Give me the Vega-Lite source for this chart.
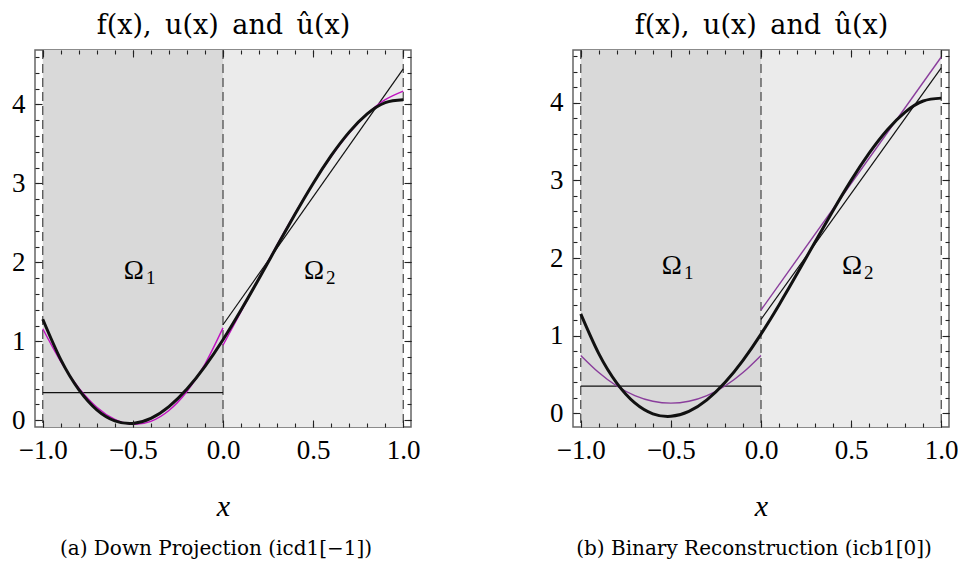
{
  "$schema": "https://vega.github.io/schema/vega-lite/v6.json",
  "autosize": {"type": "none"},
  "padding": {"left": 35, "top": 50, "right": 923, "bottom": 134},
  "background": "white",
  "bounds": "flush",
  "spacing": 162,
  "config": {
    "font": "Liberation Serif",
    "view": {"stroke": "#666", "strokeWidth": 1.5},
    "axis": {"grid": false, "domain": false, "labelFont": "Liberation Serif", "titleFont": "DejaVu Serif", "labelColor": "#000", "titleColor": "#000", "tickColor": "#222", "tickWidth": 1.1, "labelFontSize": 27, "titleFontWeight": "normal"},
    "title": {"font": "DejaVu Serif", "fontWeight": "normal", "color": "#000"}
  },
  "datasets": {
    "regions": [{"region": "Ω1", "x0": -1, "x1": 0}, {"region": "Ω2", "x0": 0, "x1": 1}],
    "bounds": [{"x": -1}, {"x": 0}, {"x": 1}],
    "labels": [{"omega": "Ω", "sub": "1", "x": -0.5, "y": 1.79}, {"omega": "Ω", "sub": "2", "x": 0.5, "y": 1.79}],
    "f": [
      {"x": -1, "y": 1.28}, {"x": -0.9, "y": 0.768}, {"x": -0.8, "y": 0.389}, {"x": -0.7, "y": 0.133}, {"x": -0.6, "y": -0.007},
      {"x": -0.5, "y": -0.04}, {"x": -0.4, "y": 0.023}, {"x": -0.3, "y": 0.172}, {"x": -0.2, "y": 0.395}, {"x": -0.1, "y": 0.682},
      {"x": 0, "y": 1.02}, {"x": 0.1, "y": 1.396}, {"x": 0.2, "y": 1.796}, {"x": 0.3, "y": 2.207}, {"x": 0.4, "y": 2.613},
      {"x": 0.5, "y": 3.0}, {"x": 0.6, "y": 3.351}, {"x": 0.7, "y": 3.65}, {"x": 0.8, "y": 3.88}, {"x": 0.9, "y": 4.023}, {"x": 1, "y": 4.06}
    ],
    "u": [
      {"piece": 1, "x": -1, "y": 0.35}, {"piece": 1, "x": 0, "y": 0.35},
      {"piece": 2, "x": 0, "y": 1.21}, {"piece": 2, "x": 1, "y": 4.45}
    ],
    "ua": [
      {"piece": 1, "x": -1, "y": 1.16}, {"piece": 1, "x": -0.9, "y": 0.743}, {"piece": 1, "x": -0.8, "y": 0.41}, {"piece": 1, "x": -0.7, "y": 0.165},
      {"piece": 1, "x": -0.6, "y": 0.011}, {"piece": 1, "x": -0.5, "y": -0.05}, {"piece": 1, "x": -0.4, "y": -0.013}, {"piece": 1, "x": -0.3, "y": 0.124},
      {"piece": 1, "x": -0.2, "y": 0.365}, {"piece": 1, "x": -0.1, "y": 0.712}, {"piece": 1, "x": 0, "y": 1.17},
      {"piece": 2, "x": 0, "y": 0.95}, {"piece": 2, "x": 0.1, "y": 1.376}, {"piece": 2, "x": 0.2, "y": 1.803}, {"piece": 2, "x": 0.3, "y": 2.222},
      {"piece": 2, "x": 0.4, "y": 2.624}, {"piece": 2, "x": 0.5, "y": 3.0}, {"piece": 2, "x": 0.6, "y": 3.341}, {"piece": 2, "x": 0.7, "y": 3.637},
      {"piece": 2, "x": 0.8, "y": 3.88}, {"piece": 2, "x": 0.9, "y": 4.061}, {"piece": 2, "x": 1, "y": 4.17}
    ],
    "ub": [
      {"piece": 1, "x": -1, "y": 0.745}, {"piece": 1, "x": -0.9, "y": 0.524}, {"piece": 1, "x": -0.8, "y": 0.351}, {"piece": 1, "x": -0.7, "y": 0.228},
      {"piece": 1, "x": -0.6, "y": 0.155}, {"piece": 1, "x": -0.5, "y": 0.13}, {"piece": 1, "x": -0.4, "y": 0.155}, {"piece": 1, "x": -0.3, "y": 0.228},
      {"piece": 1, "x": -0.2, "y": 0.351}, {"piece": 1, "x": -0.1, "y": 0.524}, {"piece": 1, "x": 0, "y": 0.745},
      {"piece": 2, "x": 0, "y": 1.33}, {"piece": 2, "x": 1, "y": 4.59}
    ]
  },
  "hconcat": [
    {
      "width": 376, "height": 377,
      "title": {"text": "(a) Down Projection (icd1[−1])", "orient": "bottom", "fontSize": 20, "offset": 18, "dx": -7},
      "resolve": {"axis": {"x": "independent", "y": "independent"}},
      "layer": [
        {
          "data": {"name": "regions"},
          "mark": {"type": "rect"},
          "encoding": {
            "x": {"field": "x0", "type": "quantitative", "scale": {"domain": [-1.043, 1.043], "nice": false, "zero": false},
                  "axis": {"orient": "bottom", "zindex": 2, "offset": -7, "values": [-1, -0.5, 0, 0.5, 1], "format": ".1f", "tickSize": 7, "labelPadding": 10, "title": "x", "titleFont": "Liberation Serif", "titleFontStyle": "italic", "titleFontSize": 30, "titlePadding": 28}},
            "x2": {"field": "x1"},
            "color": {"field": "region", "type": "nominal", "scale": {"domain": ["Ω1", "Ω2"], "range": ["#d9d9d9", "#ebebeb"]}, "legend": null}
          }
        },
        {
          "data": {"name": "bounds"},
          "mark": {"type": "rule", "color": "#444", "strokeWidth": 1.2, "strokeDash": [9, 5]},
          "encoding": {
            "x": {"field": "x", "type": "quantitative", "scale": {"domain": [-1.043, 1.043], "nice": false, "zero": false},
                  "axis": {"orient": "bottom", "zindex": 2, "offset": -4, "values": [-1, -0.9, -0.8, -0.7, -0.6, -0.5, -0.4, -0.3, -0.2, -0.1, 0, 0.1, 0.2, 0.3, 0.4, 0.5, 0.6, 0.7, 0.8, 0.9, 1], "labels": false, "tickSize": 4, "title": null}}
          }
        },
        {
          "data": {"name": "labels"},
          "mark": {"type": "text", "fontSize": 27, "font": "Liberation Serif", "color": "#000", "align": "right", "baseline": "alphabetic", "dx": 11},
          "encoding": {
            "x": {"field": "x", "type": "quantitative", "scale": {"domain": [-1.043, 1.043], "nice": false, "zero": false},
                  "axis": {"orient": "top", "zindex": 2, "offset": -7, "values": [-1, -0.5, 0, 0.5, 1], "labels": false, "tickSize": 7, "title": "f(x),\u2002u(x)\u2002and\u2002û(x)", "titleFontSize": 27, "titlePadding": 10}},
            "y": {"field": "y", "type": "quantitative", "scale": {"domain": [-0.085, 4.69], "nice": false, "zero": false},
                  "axis": {"orient": "left", "zindex": 2, "offset": -7, "values": [0, 1, 2, 3, 4], "format": "d", "tickSize": 7, "labelPadding": 10, "title": null}},
            "text": {"field": "omega"}
          }
        },
        {
          "data": {"name": "labels"},
          "mark": {"type": "text", "fontSize": 19, "font": "Liberation Serif", "color": "#000", "align": "left", "baseline": "alphabetic", "dx": 13, "dy": 5},
          "encoding": {
            "x": {"field": "x", "type": "quantitative", "scale": {"domain": [-1.043, 1.043], "nice": false, "zero": false}, "axis": null},
            "y": {"field": "y", "type": "quantitative", "scale": {"domain": [-0.085, 4.69], "nice": false, "zero": false}, "axis": null},
            "text": {"field": "sub"}
          }
        },
        {
          "data": {"name": "u"},
          "mark": {"type": "line", "color": "#111", "strokeWidth": 1.2},
          "encoding": {
            "x": {"field": "x", "type": "quantitative", "scale": {"domain": [-1.043, 1.043], "nice": false, "zero": false},
                  "axis": {"orient": "top", "zindex": 2, "offset": -4, "values": [-1, -0.9, -0.8, -0.7, -0.6, -0.5, -0.4, -0.3, -0.2, -0.1, 0, 0.1, 0.2, 0.3, 0.4, 0.5, 0.6, 0.7, 0.8, 0.9, 1], "labels": false, "tickSize": 4, "title": null}},
            "y": {"field": "y", "type": "quantitative", "scale": {"domain": [-0.085, 4.69], "nice": false, "zero": false},
                  "axis": {"orient": "left", "zindex": 2, "offset": -4, "values": [0, 0.2, 0.4, 0.6, 0.8, 1, 1.2, 1.4, 1.6, 1.8, 2, 2.2, 2.4, 2.6, 2.8, 3, 3.2, 3.4, 3.6, 3.8, 4, 4.2, 4.4, 4.6], "labels": false, "tickSize": 4, "title": null}},
            "detail": {"field": "piece", "type": "nominal"}
          }
        },
        {
          "data": {"name": "ua"},
          "mark": {"type": "line", "color": "#c010c0", "strokeWidth": 1.4, "interpolate": "natural"},
          "encoding": {
            "x": {"field": "x", "type": "quantitative", "scale": {"domain": [-1.043, 1.043], "nice": false, "zero": false}, "axis": null},
            "y": {"field": "y", "type": "quantitative", "scale": {"domain": [-0.085, 4.69], "nice": false, "zero": false},
                  "axis": {"orient": "right", "zindex": 2, "offset": -7, "values": [0, 1, 2, 3, 4], "labels": false, "tickSize": 7, "title": null}},
            "detail": {"field": "piece", "type": "nominal"}
          }
        },
        {
          "data": {"name": "f"},
          "mark": {"type": "line", "color": "#111", "strokeWidth": 3, "interpolate": "natural"},
          "encoding": {
            "x": {"field": "x", "type": "quantitative", "scale": {"domain": [-1.043, 1.043], "nice": false, "zero": false}, "axis": null},
            "y": {"field": "y", "type": "quantitative", "scale": {"domain": [-0.085, 4.69], "nice": false, "zero": false},
                  "axis": {"orient": "right", "zindex": 2, "offset": -4, "values": [0, 0.2, 0.4, 0.6, 0.8, 1, 1.2, 1.4, 1.6, 1.8, 2, 2.2, 2.4, 2.6, 2.8, 3, 3.2, 3.4, 3.6, 3.8, 4, 4.2, 4.4, 4.6], "labels": false, "tickSize": 4, "title": null}}
          }
        }
      ]
    },
    {
      "width": 376, "height": 377,
      "title": {"text": "(b) Binary Reconstruction (icb1[0])", "orient": "bottom", "fontSize": 20, "offset": 18, "dx": -7},
      "resolve": {"axis": {"x": "independent", "y": "independent"}},
      "layer": [
        {
          "data": {"name": "regions"},
          "mark": {"type": "rect"},
          "encoding": {
            "x": {"field": "x0", "type": "quantitative", "scale": {"domain": [-1.043, 1.043], "nice": false, "zero": false},
                  "axis": {"orient": "bottom", "zindex": 2, "offset": -7, "values": [-1, -0.5, 0, 0.5, 1], "format": ".1f", "tickSize": 7, "labelPadding": 10, "title": "x", "titleFont": "Liberation Serif", "titleFontStyle": "italic", "titleFontSize": 30, "titlePadding": 28}},
            "x2": {"field": "x1"},
            "color": {"field": "region", "type": "nominal", "scale": {"domain": ["Ω1", "Ω2"], "range": ["#d1d2d4", "#e5e6e8"]}, "legend": null}
          }
        },
        {
          "data": {"name": "bounds"},
          "mark": {"type": "rule", "color": "#444", "strokeWidth": 1.2, "strokeDash": [9, 5]},
          "encoding": {
            "x": {"field": "x", "type": "quantitative", "scale": {"domain": [-1.043, 1.043], "nice": false, "zero": false},
                  "axis": {"orient": "bottom", "zindex": 2, "offset": -4, "values": [-1, -0.9, -0.8, -0.7, -0.6, -0.5, -0.4, -0.3, -0.2, -0.1, 0, 0.1, 0.2, 0.3, 0.4, 0.5, 0.6, 0.7, 0.8, 0.9, 1], "labels": false, "tickSize": 4, "title": null}}
          }
        },
        {
          "data": {"name": "labels"},
          "mark": {"type": "text", "fontSize": 27, "font": "Liberation Serif", "color": "#000", "align": "right", "baseline": "alphabetic", "dx": 11},
          "encoding": {
            "x": {"field": "x", "type": "quantitative", "scale": {"domain": [-1.043, 1.043], "nice": false, "zero": false},
                  "axis": {"orient": "top", "zindex": 2, "offset": -7, "values": [-1, -0.5, 0, 0.5, 1], "labels": false, "tickSize": 7, "title": "f(x),\u2002u(x)\u2002and\u2002û(x)", "titleFontSize": 27, "titlePadding": 10}},
            "y": {"field": "y", "type": "quantitative", "scale": {"domain": [-0.177, 4.68], "nice": false, "zero": false},
                  "axis": {"orient": "left", "zindex": 2, "offset": -7, "values": [0, 1, 2, 3, 4], "format": "d", "tickSize": 7, "labelPadding": 10, "title": null}},
            "text": {"field": "omega"}
          }
        },
        {
          "data": {"name": "labels"},
          "mark": {"type": "text", "fontSize": 19, "font": "Liberation Serif", "color": "#000", "align": "left", "baseline": "alphabetic", "dx": 13, "dy": 5},
          "encoding": {
            "x": {"field": "x", "type": "quantitative", "scale": {"domain": [-1.043, 1.043], "nice": false, "zero": false}, "axis": null},
            "y": {"field": "y", "type": "quantitative", "scale": {"domain": [-0.177, 4.68], "nice": false, "zero": false}, "axis": null},
            "text": {"field": "sub"}
          }
        },
        {
          "data": {"name": "u"},
          "mark": {"type": "line", "color": "#111", "strokeWidth": 1.2},
          "encoding": {
            "x": {"field": "x", "type": "quantitative", "scale": {"domain": [-1.043, 1.043], "nice": false, "zero": false},
                  "axis": {"orient": "top", "zindex": 2, "offset": -4, "values": [-1, -0.9, -0.8, -0.7, -0.6, -0.5, -0.4, -0.3, -0.2, -0.1, 0, 0.1, 0.2, 0.3, 0.4, 0.5, 0.6, 0.7, 0.8, 0.9, 1], "labels": false, "tickSize": 4, "title": null}},
            "y": {"field": "y", "type": "quantitative", "scale": {"domain": [-0.177, 4.68], "nice": false, "zero": false},
                  "axis": {"orient": "left", "zindex": 2, "offset": -4, "values": [0, 0.2, 0.4, 0.6, 0.8, 1, 1.2, 1.4, 1.6, 1.8, 2, 2.2, 2.4, 2.6, 2.8, 3, 3.2, 3.4, 3.6, 3.8, 4, 4.2, 4.4, 4.6], "labels": false, "tickSize": 4, "title": null}},
            "detail": {"field": "piece", "type": "nominal"}
          }
        },
        {
          "data": {"name": "ub"},
          "mark": {"type": "line", "color": "#8a3d9c", "strokeWidth": 1.4, "interpolate": "natural"},
          "encoding": {
            "x": {"field": "x", "type": "quantitative", "scale": {"domain": [-1.043, 1.043], "nice": false, "zero": false}, "axis": null},
            "y": {"field": "y", "type": "quantitative", "scale": {"domain": [-0.177, 4.68], "nice": false, "zero": false},
                  "axis": {"orient": "right", "zindex": 2, "offset": -7, "values": [0, 1, 2, 3, 4], "labels": false, "tickSize": 7, "title": null}},
            "detail": {"field": "piece", "type": "nominal"}
          }
        },
        {
          "data": {"name": "f"},
          "mark": {"type": "line", "color": "#111", "strokeWidth": 3, "interpolate": "natural"},
          "encoding": {
            "x": {"field": "x", "type": "quantitative", "scale": {"domain": [-1.043, 1.043], "nice": false, "zero": false}, "axis": null},
            "y": {"field": "y", "type": "quantitative", "scale": {"domain": [-0.177, 4.68], "nice": false, "zero": false},
                  "axis": {"orient": "right", "zindex": 2, "offset": -4, "values": [0, 0.2, 0.4, 0.6, 0.8, 1, 1.2, 1.4, 1.6, 1.8, 2, 2.2, 2.4, 2.6, 2.8, 3, 3.2, 3.4, 3.6, 3.8, 4, 4.2, 4.4, 4.6], "labels": false, "tickSize": 4, "title": null}}
          }
        }
      ]
    }
  ]
}
